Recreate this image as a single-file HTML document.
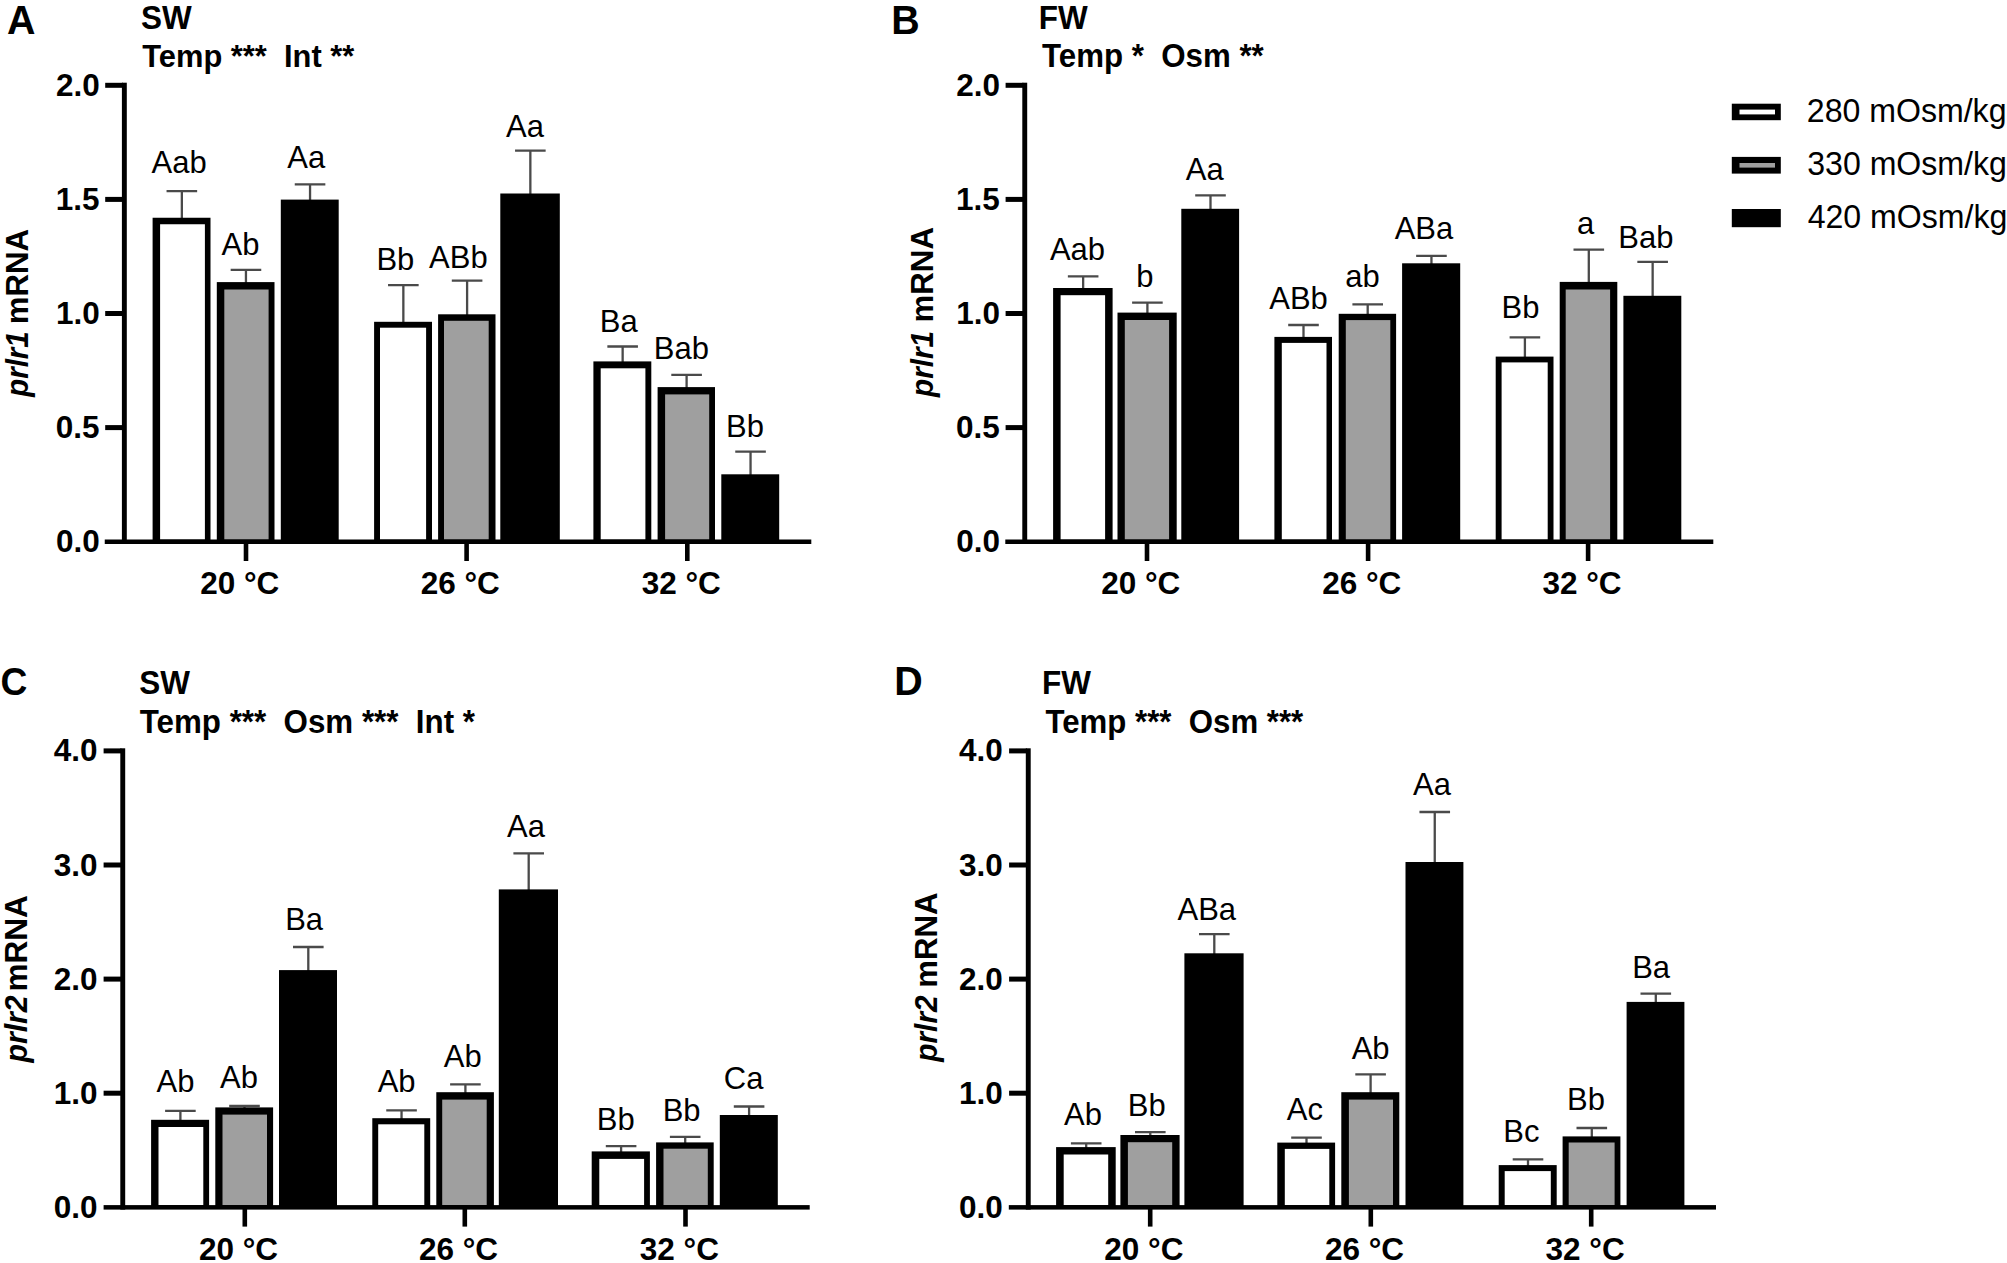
<!DOCTYPE html>
<html lang="en"><head><meta charset="utf-8"><title>prlr1 and prlr2 mRNA</title>
<style>html,body{margin:0;padding:0;background:#fff}body{width:2007px;height:1263px;overflow:hidden}svg{display:block}text{white-space:pre;font-family:"Liberation Sans",Arial,Helvetica,sans-serif;fill:#000}.r{font-weight:400}.b{font-weight:700}.bi{font-weight:700;font-style:italic}</style></head><body>
<svg width="2007" height="1263" viewBox="0 0 2007 1263">
<rect width="2007" height="1263" fill="#fff"/>
<path d="M166.55 191.2H197.15M181.85 191.2V218.75" stroke="#4a4a4a" stroke-width="2.3" fill="none"/>
<rect x="152.6" y="217.75" width="57.9" height="322.75" fill="#000"/>
<rect x="160.1" y="224.25" width="44.8" height="315.25" fill="#fff"/>
<path d="M230.65 269.8H261.25M245.95 269.8V283.1" stroke="#4a4a4a" stroke-width="2.3" fill="none"/>
<rect x="216.8" y="282.1" width="57.7" height="258.4" fill="#000"/>
<rect x="224.3" y="289.5" width="44.3" height="250" fill="#9f9f9f"/>
<path d="M294.75 184.3H325.35M310.05 184.3V200.6" stroke="#4a4a4a" stroke-width="2.3" fill="none"/>
<rect x="280.8" y="199.6" width="57.9" height="340.9" fill="#000"/>
<path d="M388.05 285.1H418.65M403.35 285.1V322.8" stroke="#4a4a4a" stroke-width="2.3" fill="none"/>
<rect x="374.1" y="321.8" width="57.9" height="218.7" fill="#000"/>
<rect x="380" y="327.7" width="46.1" height="211.8" fill="#fff"/>
<path d="M451.8 280.6H482.4M467.1 280.6V315.3" stroke="#4a4a4a" stroke-width="2.3" fill="none"/>
<rect x="438.1" y="314.3" width="57.4" height="226.2" fill="#000"/>
<rect x="444" y="320.8" width="44.7" height="218.7" fill="#9f9f9f"/>
<path d="M515.05 150.7H545.65M530.35 150.7V194.5" stroke="#4a4a4a" stroke-width="2.3" fill="none"/>
<rect x="500.3" y="193.5" width="59.5" height="347" fill="#000"/>
<path d="M607.35 346.5H637.95M622.65 346.5V362.4" stroke="#4a4a4a" stroke-width="2.3" fill="none"/>
<rect x="593.4" y="361.4" width="57.9" height="179.1" fill="#000"/>
<rect x="600.7" y="368.3" width="44.7" height="171.2" fill="#fff"/>
<path d="M671.3 374.9H701.9M686.6 374.9V388.1" stroke="#4a4a4a" stroke-width="2.3" fill="none"/>
<rect x="657.6" y="387.1" width="57.4" height="153.4" fill="#000"/>
<rect x="665.1" y="394.4" width="44.1" height="145.1" fill="#9f9f9f"/>
<path d="M735.25 451.7H765.85M750.55 451.7V475.3" stroke="#4a4a4a" stroke-width="2.3" fill="none"/>
<rect x="721.3" y="474.3" width="57.9" height="66.2" fill="#000"/>
<text class="r" font-size="31" transform="translate(151.53 172.8) scale(1 1.03)" xml:space="preserve">Aab</text>
<text class="r" font-size="31" transform="translate(221.53 255.4) scale(1 1.03)" xml:space="preserve">Ab</text>
<text class="r" font-size="31" transform="translate(287.32 168.4) scale(1 1.03)" xml:space="preserve">Aa</text>
<text class="r" font-size="31" transform="translate(376.39 269.5) scale(1 1.03)" xml:space="preserve">Bb</text>
<text class="r" font-size="31" transform="translate(429.09 267.8) scale(1 1.03)" xml:space="preserve">ABb</text>
<text class="r" font-size="31" transform="translate(506.02 137.2) scale(1 1.03)" xml:space="preserve">Aa</text>
<text class="r" font-size="31" transform="translate(599.83 331.7) scale(1 1.03)" xml:space="preserve">Ba</text>
<text class="r" font-size="31" transform="translate(653.74 359.4) scale(1 1.03)" xml:space="preserve">Bab</text>
<text class="r" font-size="31" transform="translate(726.04 436.6) scale(1 1.03)" xml:space="preserve">Bb</text>
<rect x="104.75" y="539.5" width="706.55" height="4.5" fill="#000"/>
<rect x="121.9" y="82.7" width="4.9" height="461.3" fill="#000"/>
<rect x="105.2" y="82.8" width="17.8" height="5" fill="#000"/>
<text class="b" font-size="31.5" transform="translate(56.07 95.8) scale(1 1.02)" xml:space="preserve">2.0</text>
<rect x="105.2" y="196.9" width="17.8" height="5" fill="#000"/>
<text class="b" font-size="31.5" transform="translate(55.68 209.9) scale(1 1.02)" xml:space="preserve">1.5</text>
<rect x="105.2" y="311" width="17.8" height="5" fill="#000"/>
<text class="b" font-size="31.5" transform="translate(56.07 324) scale(1 1.02)" xml:space="preserve">1.0</text>
<rect x="105.2" y="425.1" width="17.8" height="5" fill="#000"/>
<text class="b" font-size="31.5" transform="translate(55.68 438.1) scale(1 1.02)" xml:space="preserve">0.5</text>
<text class="b" font-size="31.5" transform="translate(56.07 552.2) scale(1 1.02)" xml:space="preserve">0.0</text>
<rect x="243.7" y="543" width="4.6" height="18" fill="#000"/>
<text class="b" font-size="31.5" transform="translate(200.16 593.9) scale(1 1.02)" xml:space="preserve">20 °C</text>
<rect x="464.3" y="543" width="4.6" height="18" fill="#000"/>
<text class="b" font-size="31.5" transform="translate(420.76 593.9) scale(1 1.02)" xml:space="preserve">26 °C</text>
<rect x="685" y="543" width="4.6" height="18" fill="#000"/>
<text class="b" font-size="31.5" transform="translate(641.66 593.9) scale(1 1.02)" xml:space="preserve">32 °C</text>
<text class="b" font-size="39.4" transform="translate(7.01 33.6) scale(1 1.05)" xml:space="preserve">A</text>
<text class="b" font-size="31.5" transform="translate(141.06 28.75) scale(1 1.035)" xml:space="preserve">SW</text>
<text class="b" font-size="30.85" transform="translate(142.29 67.3) scale(1 1.04)" xml:space="preserve">Temp ***  Int **</text>
<text class="bi" font-size="31.2" transform="translate(28.2 396.84) rotate(-90) scale(0.9458 1.03)">prlr1</text>
<text class="b" font-size="31.2" transform="translate(28.2 324.33) rotate(-90) scale(1.0008 1.03)">mRNA</text>
<path d="M1067.85 276.3H1098.45M1083.15 276.3V289" stroke="#4a4a4a" stroke-width="2.3" fill="none"/>
<rect x="1053.1" y="288" width="59.5" height="252.5" fill="#000"/>
<rect x="1060.6" y="295.2" width="44.5" height="244.3" fill="#fff"/>
<path d="M1132.1 302.6H1162.7M1147.4 302.6V313.6" stroke="#4a4a4a" stroke-width="2.3" fill="none"/>
<rect x="1117.5" y="312.6" width="59.2" height="227.9" fill="#000"/>
<rect x="1124.8" y="320" width="44.3" height="219.5" fill="#9f9f9f"/>
<path d="M1195.2 195.4H1225.8M1210.5 195.4V209.8" stroke="#4a4a4a" stroke-width="2.3" fill="none"/>
<rect x="1181.3" y="208.8" width="57.8" height="331.7" fill="#000"/>
<path d="M1288.2 325H1318.8M1303.5 325V337.9" stroke="#4a4a4a" stroke-width="2.3" fill="none"/>
<rect x="1274.4" y="336.9" width="57.6" height="203.6" fill="#000"/>
<rect x="1281.8" y="342.9" width="44.7" height="196.6" fill="#fff"/>
<path d="M1352.4 304.3H1383M1367.7 304.3V314.8" stroke="#4a4a4a" stroke-width="2.3" fill="none"/>
<rect x="1338.7" y="313.8" width="57.4" height="226.7" fill="#000"/>
<rect x="1345.8" y="320.1" width="44.5" height="219.4" fill="#9f9f9f"/>
<path d="M1416.15 255.9H1446.75M1431.45 255.9V264.3" stroke="#4a4a4a" stroke-width="2.3" fill="none"/>
<rect x="1402.1" y="263.3" width="58.1" height="277.2" fill="#000"/>
<path d="M1509.6 337.3H1540.2M1524.9 337.3V357.6" stroke="#4a4a4a" stroke-width="2.3" fill="none"/>
<rect x="1495.7" y="356.6" width="57.8" height="183.9" fill="#000"/>
<rect x="1501.6" y="362.4" width="46.1" height="177.1" fill="#fff"/>
<path d="M1573.5 249.7H1604.1M1588.8 249.7V282.9" stroke="#4a4a4a" stroke-width="2.3" fill="none"/>
<rect x="1559.7" y="281.9" width="57.6" height="258.6" fill="#000"/>
<rect x="1565.7" y="289.5" width="44.4" height="250" fill="#9f9f9f"/>
<path d="M1637.35 261.9H1667.95M1652.65 261.9V296.8" stroke="#4a4a4a" stroke-width="2.3" fill="none"/>
<rect x="1623.4" y="295.8" width="57.9" height="244.7" fill="#000"/>
<text class="r" font-size="31" transform="translate(1049.88 260) scale(1 1.03)" xml:space="preserve">Aab</text>
<text class="r" font-size="31" transform="translate(1136.26 286.9) scale(1 1.03)" xml:space="preserve">b</text>
<text class="r" font-size="31" transform="translate(1185.87 179.9) scale(1 1.03)" xml:space="preserve">Aa</text>
<text class="r" font-size="31" transform="translate(1269.24 309.3) scale(1 1.03)" xml:space="preserve">ABb</text>
<text class="r" font-size="31" transform="translate(1345.26 286.9) scale(1 1.03)" xml:space="preserve">ab</text>
<text class="r" font-size="31" transform="translate(1394.68 239.3) scale(1 1.03)" xml:space="preserve">ABa</text>
<text class="r" font-size="31" transform="translate(1501.59 318) scale(1 1.03)" xml:space="preserve">Bb</text>
<text class="r" font-size="31" transform="translate(1577.05 234.2) scale(1 1.03)" xml:space="preserve">a</text>
<text class="r" font-size="31" transform="translate(1618.34 248.2) scale(1 1.03)" xml:space="preserve">Bab</text>
<rect x="1005.3" y="539.5" width="708" height="4.5" fill="#000"/>
<rect x="1022.3" y="82.7" width="4.9" height="461.3" fill="#000"/>
<rect x="1005.6" y="82.8" width="17.8" height="5" fill="#000"/>
<text class="b" font-size="31.5" transform="translate(956.27 95.8) scale(1 1.02)" xml:space="preserve">2.0</text>
<rect x="1005.6" y="196.9" width="17.8" height="5" fill="#000"/>
<text class="b" font-size="31.5" transform="translate(955.88 209.9) scale(1 1.02)" xml:space="preserve">1.5</text>
<rect x="1005.6" y="311" width="17.8" height="5" fill="#000"/>
<text class="b" font-size="31.5" transform="translate(956.27 324) scale(1 1.02)" xml:space="preserve">1.0</text>
<rect x="1005.6" y="425.1" width="17.8" height="5" fill="#000"/>
<text class="b" font-size="31.5" transform="translate(955.88 438.1) scale(1 1.02)" xml:space="preserve">0.5</text>
<text class="b" font-size="31.5" transform="translate(956.27 552.2) scale(1 1.02)" xml:space="preserve">0.0</text>
<rect x="1144.7" y="543" width="4.6" height="18" fill="#000"/>
<text class="b" font-size="31.5" transform="translate(1101.16 593.9) scale(1 1.02)" xml:space="preserve">20 °C</text>
<rect x="1365.8" y="543" width="4.6" height="18" fill="#000"/>
<text class="b" font-size="31.5" transform="translate(1322.26 593.9) scale(1 1.02)" xml:space="preserve">26 °C</text>
<rect x="1585.8" y="543" width="4.6" height="18" fill="#000"/>
<text class="b" font-size="31.5" transform="translate(1542.46 593.9) scale(1 1.02)" xml:space="preserve">32 °C</text>
<text class="b" font-size="39.4" transform="translate(891.24 33.8) scale(1 1.05)" xml:space="preserve">B</text>
<text class="b" font-size="31.5" transform="translate(1038.87 28.75) scale(1 1.035)" xml:space="preserve">FW</text>
<text class="b" font-size="31.25" transform="translate(1042.09 67.4) scale(1 1.04)" xml:space="preserve">Temp *  Osm **</text>
<text class="bi" font-size="31.2" transform="translate(933.2 397.03) rotate(-90) scale(0.9546 1.03)">prlr1</text>
<text class="b" font-size="31.2" transform="translate(933.2 322.43) rotate(-90) scale(1.0008 1.03)">mRNA</text>
<path d="M165.1 1110.8H195.7M180.4 1110.8V1120.8" stroke="#4a4a4a" stroke-width="2.3" fill="none"/>
<rect x="151.1" y="1119.8" width="58" height="86.3" fill="#000"/>
<rect x="158.5" y="1127" width="44.8" height="78.1" fill="#fff"/>
<path d="M229.2 1106H259.8M244.5 1106V1108.4" stroke="#4a4a4a" stroke-width="2.3" fill="none"/>
<rect x="215.3" y="1107.4" width="57.8" height="98.7" fill="#000"/>
<rect x="222.5" y="1114.6" width="44.5" height="90.5" fill="#9f9f9f"/>
<path d="M293 947H323.6M308.3 947V971.1" stroke="#4a4a4a" stroke-width="2.3" fill="none"/>
<rect x="279" y="970.1" width="58" height="236" fill="#000"/>
<path d="M386.25 1110.4H416.85M401.55 1110.4V1119.2" stroke="#4a4a4a" stroke-width="2.3" fill="none"/>
<rect x="372.3" y="1118.2" width="57.9" height="87.9" fill="#000"/>
<rect x="378.2" y="1124.3" width="46.1" height="80.8" fill="#fff"/>
<path d="M450.1 1084.3H480.7M465.4 1084.3V1093.2" stroke="#4a4a4a" stroke-width="2.3" fill="none"/>
<rect x="436.3" y="1092.2" width="57.6" height="113.9" fill="#000"/>
<rect x="442.2" y="1099.6" width="44.5" height="105.5" fill="#9f9f9f"/>
<path d="M513.4 853.3H544M528.7 853.3V890.4" stroke="#4a4a4a" stroke-width="2.3" fill="none"/>
<rect x="498.8" y="889.4" width="59.2" height="316.7" fill="#000"/>
<path d="M605.8 1146.2H636.4M621.1 1146.2V1152.4" stroke="#4a4a4a" stroke-width="2.3" fill="none"/>
<rect x="591.7" y="1151.4" width="58.2" height="54.7" fill="#000"/>
<rect x="599.3" y="1158.9" width="44.8" height="46.2" fill="#fff"/>
<path d="M669.9 1136.9H700.5M685.2 1136.9V1143.4" stroke="#4a4a4a" stroke-width="2.3" fill="none"/>
<rect x="656.1" y="1142.4" width="57.6" height="63.7" fill="#000"/>
<rect x="663.5" y="1148.7" width="44.3" height="56.4" fill="#9f9f9f"/>
<path d="M733.8 1106.5H764.4M749.1 1106.5V1116" stroke="#4a4a4a" stroke-width="2.3" fill="none"/>
<rect x="719.8" y="1115" width="58" height="91.1" fill="#000"/>
<text class="r" font-size="31" transform="translate(156.48 1091.7) scale(1 1.03)" xml:space="preserve">Ab</text>
<text class="r" font-size="31" transform="translate(220.03 1088.4) scale(1 1.03)" xml:space="preserve">Ab</text>
<text class="r" font-size="31" transform="translate(285.18 929.8) scale(1 1.03)" xml:space="preserve">Ba</text>
<text class="r" font-size="31" transform="translate(377.68 1092.4) scale(1 1.03)" xml:space="preserve">Ab</text>
<text class="r" font-size="31" transform="translate(443.78 1067.1) scale(1 1.03)" xml:space="preserve">Ab</text>
<text class="r" font-size="31" transform="translate(507.07 837.2) scale(1 1.03)" xml:space="preserve">Aa</text>
<text class="r" font-size="31" transform="translate(596.74 1129.6) scale(1 1.03)" xml:space="preserve">Bb</text>
<text class="r" font-size="31" transform="translate(662.64 1120.9) scale(1 1.03)" xml:space="preserve">Bb</text>
<text class="r" font-size="31" transform="translate(723.84 1088.9) scale(1 1.03)" xml:space="preserve">Ca</text>
<rect x="103.6" y="1205.1" width="706.1" height="4.5" fill="#000"/>
<rect x="120.3" y="748.3" width="4.9" height="461.3" fill="#000"/>
<rect x="103.6" y="748.4" width="17.8" height="5" fill="#000"/>
<text class="b" font-size="31.5" transform="translate(53.67 761.4) scale(1 1.02)" xml:space="preserve">4.0</text>
<rect x="103.6" y="862.5" width="17.8" height="5" fill="#000"/>
<text class="b" font-size="31.5" transform="translate(53.67 875.5) scale(1 1.02)" xml:space="preserve">3.0</text>
<rect x="103.6" y="976.6" width="17.8" height="5" fill="#000"/>
<text class="b" font-size="31.5" transform="translate(53.67 989.6) scale(1 1.02)" xml:space="preserve">2.0</text>
<rect x="103.6" y="1090.7" width="17.8" height="5" fill="#000"/>
<text class="b" font-size="31.5" transform="translate(53.67 1103.7) scale(1 1.02)" xml:space="preserve">1.0</text>
<text class="b" font-size="31.5" transform="translate(53.67 1217.8) scale(1 1.02)" xml:space="preserve">0.0</text>
<rect x="242.5" y="1208.6" width="4.6" height="18" fill="#000"/>
<text class="b" font-size="31.5" transform="translate(198.96 1259.5) scale(1 1.02)" xml:space="preserve">20 °C</text>
<rect x="462.5" y="1208.6" width="4.6" height="18" fill="#000"/>
<text class="b" font-size="31.5" transform="translate(418.96 1259.5) scale(1 1.02)" xml:space="preserve">26 °C</text>
<rect x="683.2" y="1208.6" width="4.6" height="18" fill="#000"/>
<text class="b" font-size="31.5" transform="translate(639.86 1259.5) scale(1 1.02)" xml:space="preserve">32 °C</text>
<text class="b" font-size="37.2" transform="translate(0.51 694.7) scale(1 1.05)" xml:space="preserve">C</text>
<text class="b" font-size="31.5" transform="translate(139.16 694.3) scale(1 1.035)" xml:space="preserve">SW</text>
<text class="b" font-size="31.31" transform="translate(139.79 733.4) scale(1 1.04)" xml:space="preserve">Temp ***  Osm ***  Int *</text>
<text class="bi" font-size="31.2" transform="translate(26.7 1062.62) rotate(-90) scale(0.9709 1.03)">prlr2</text>
<text class="b" font-size="31.2" transform="translate(26.7 991.55) rotate(-90) scale(1.0116 1.03)">mRNA</text>
<path d="M1070.9 1143.3H1101.5M1086.2 1143.3V1148.1" stroke="#4a4a4a" stroke-width="2.3" fill="none"/>
<rect x="1056.1" y="1147.1" width="59.6" height="59" fill="#000"/>
<rect x="1063.7" y="1154.5" width="44.5" height="50.6" fill="#fff"/>
<path d="M1135 1132.1H1165.6M1150.3 1132.1V1136" stroke="#4a4a4a" stroke-width="2.3" fill="none"/>
<rect x="1120.4" y="1135" width="59.2" height="71.1" fill="#000"/>
<rect x="1127.9" y="1142.2" width="44.3" height="62.9" fill="#9f9f9f"/>
<path d="M1199 934.2H1229.6M1214.3 934.2V954.3" stroke="#4a4a4a" stroke-width="2.3" fill="none"/>
<rect x="1184.4" y="953.3" width="59.2" height="252.8" fill="#000"/>
<path d="M1291.2 1137.7H1321.8M1306.5 1137.7V1143.6" stroke="#4a4a4a" stroke-width="2.3" fill="none"/>
<rect x="1277.3" y="1142.6" width="57.8" height="63.5" fill="#000"/>
<rect x="1284.8" y="1148.9" width="44.5" height="56.2" fill="#fff"/>
<path d="M1355.3 1074.3H1385.9M1370.6 1074.3V1093.2" stroke="#4a4a4a" stroke-width="2.3" fill="none"/>
<rect x="1341.3" y="1092.2" width="58" height="113.9" fill="#000"/>
<rect x="1348.9" y="1099.6" width="44.1" height="105.5" fill="#9f9f9f"/>
<path d="M1419.45 812H1450.05M1434.75 812V863" stroke="#4a4a4a" stroke-width="2.3" fill="none"/>
<rect x="1405.5" y="862" width="57.9" height="344.1" fill="#000"/>
<path d="M1512.7 1159.4H1543.3M1528 1159.4V1166.1" stroke="#4a4a4a" stroke-width="2.3" fill="none"/>
<rect x="1498.7" y="1165.1" width="58" height="41" fill="#000"/>
<rect x="1504.7" y="1171.1" width="46.1" height="34" fill="#fff"/>
<path d="M1576.5 1128H1607.1M1591.8 1128V1137.4" stroke="#4a4a4a" stroke-width="2.3" fill="none"/>
<rect x="1562.6" y="1136.4" width="57.8" height="69.7" fill="#000"/>
<rect x="1568.7" y="1142.5" width="45.9" height="62.6" fill="#9f9f9f"/>
<path d="M1640.5 993.7H1671.1M1655.8 993.7V1002.9" stroke="#4a4a4a" stroke-width="2.3" fill="none"/>
<rect x="1626.6" y="1001.9" width="57.8" height="204.2" fill="#000"/>
<text class="r" font-size="31" transform="translate(1063.98 1125.4) scale(1 1.03)" xml:space="preserve">Ab</text>
<text class="r" font-size="31" transform="translate(1127.79 1116.4) scale(1 1.03)" xml:space="preserve">Bb</text>
<text class="r" font-size="31" transform="translate(1177.53 920.3) scale(1 1.03)" xml:space="preserve">ABa</text>
<text class="r" font-size="31" transform="translate(1286.74 1119.8) scale(1 1.03)" xml:space="preserve">Ac</text>
<text class="r" font-size="31" transform="translate(1351.63 1059.2) scale(1 1.03)" xml:space="preserve">Ab</text>
<text class="r" font-size="31" transform="translate(1413.12 795.4) scale(1 1.03)" xml:space="preserve">Aa</text>
<text class="r" font-size="31" transform="translate(1503.35 1142) scale(1 1.03)" xml:space="preserve">Bc</text>
<text class="r" font-size="31" transform="translate(1566.99 1109.6) scale(1 1.03)" xml:space="preserve">Bb</text>
<text class="r" font-size="31" transform="translate(1632.18 977.6) scale(1 1.03)" xml:space="preserve">Ba</text>
<rect x="1008.8" y="1205.1" width="707.2" height="4.5" fill="#000"/>
<rect x="1025.8" y="748.3" width="4.9" height="461.3" fill="#000"/>
<rect x="1009.1" y="748.4" width="17.8" height="5" fill="#000"/>
<text class="b" font-size="31.5" transform="translate(958.88 761.4) scale(1 1.02)" xml:space="preserve">4.0</text>
<rect x="1009.1" y="862.5" width="17.8" height="5" fill="#000"/>
<text class="b" font-size="31.5" transform="translate(958.88 875.5) scale(1 1.02)" xml:space="preserve">3.0</text>
<rect x="1009.1" y="976.6" width="17.8" height="5" fill="#000"/>
<text class="b" font-size="31.5" transform="translate(958.88 989.6) scale(1 1.02)" xml:space="preserve">2.0</text>
<rect x="1009.1" y="1090.7" width="17.8" height="5" fill="#000"/>
<text class="b" font-size="31.5" transform="translate(958.88 1103.7) scale(1 1.02)" xml:space="preserve">1.0</text>
<text class="b" font-size="31.5" transform="translate(958.88 1217.8) scale(1 1.02)" xml:space="preserve">0.0</text>
<rect x="1147.9" y="1208.6" width="4.6" height="18" fill="#000"/>
<text class="b" font-size="31.5" transform="translate(1104.36 1259.5) scale(1 1.02)" xml:space="preserve">20 °C</text>
<rect x="1368.5" y="1208.6" width="4.6" height="18" fill="#000"/>
<text class="b" font-size="31.5" transform="translate(1324.96 1259.5) scale(1 1.02)" xml:space="preserve">26 °C</text>
<rect x="1588.9" y="1208.6" width="4.6" height="18" fill="#000"/>
<text class="b" font-size="31.5" transform="translate(1545.56 1259.5) scale(1 1.02)" xml:space="preserve">32 °C</text>
<text class="b" font-size="39.4" transform="translate(894.34 694.9) scale(1 1.05)" xml:space="preserve">D</text>
<text class="b" font-size="31.5" transform="translate(1041.97 694.3) scale(1 1.035)" xml:space="preserve">FW</text>
<text class="b" font-size="31.2" transform="translate(1045.49 733.4) scale(1 1.04)" xml:space="preserve">Temp ***  Osm ***</text>
<text class="bi" font-size="31.2" transform="translate(936.7 1061.83) rotate(-90) scale(0.9594 1.03)">prlr2</text>
<text class="b" font-size="31.2" transform="translate(936.7 987.83) rotate(-90) scale(1.0008 1.03)">mRNA</text>
<rect x="1731.8" y="103.7" width="49" height="16.5" fill="#000"/>
<rect x="1739.5" y="109.6" width="35.5" height="4.8" fill="#fff"/>
<rect x="1731.8" y="156.9" width="49" height="16.7" fill="#000"/>
<rect x="1739.5" y="163" width="35.5" height="4.6" fill="#9f9f9f"/>
<rect x="1731.8" y="209" width="49" height="18.2" fill="#000"/>
<text class="r" font-size="32.1" transform="translate(1806.8 121.5) scale(1 1.02)" xml:space="preserve">280 mOsm/kg</text>
<text class="r" font-size="32.1" transform="translate(1807.2 174.9) scale(1 1.02)" xml:space="preserve">330 mOsm/kg</text>
<text class="r" font-size="32.1" transform="translate(1807.68 228.2) scale(1 1.02)" xml:space="preserve">420 mOsm/kg</text>
</svg></body></html>
